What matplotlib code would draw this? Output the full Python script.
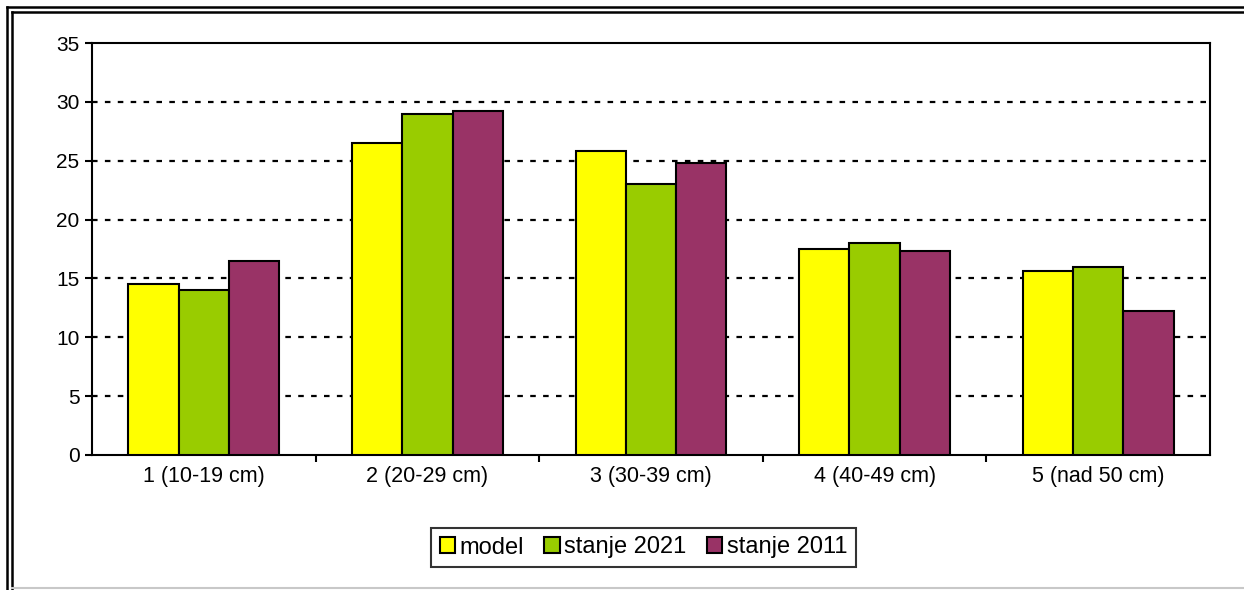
import numpy as np
import matplotlib.pyplot as plt
from matplotlib.lines import Line2D

plt.rcParams['font.family'] = ['Liberation Sans', 'DejaVu Sans']

# categories and series
categories = ["1 (10-19 cm)", "2 (20-29 cm)", "3 (30-39 cm)", "4 (40-49 cm)", "5 (nad 50 cm)"]
model = [14.5, 26.5, 25.8, 17.5, 15.6]
stanje_2021 = [14.0, 29.0, 23.0, 18.0, 16.0]
stanje_2011 = [16.5, 29.2, 24.8, 17.3, 12.2]

series = [("model", model, "#ffff00"),
          ("stanje 2021", stanje_2021, "#99cc00"),
          ("stanje 2011", stanje_2011, "#993366")]

W, H = 1244, 590
fig = plt.figure(figsize=(W / 100, H / 100), dpi=100)

def fx(px):
    return px / W

def fy(py):
    return 1 - py / H

ax = fig.add_axes([fx(92), fy(455), fx(1210) - fx(92), fy(43) - fy(455)])

x = np.arange(len(categories))
bw = 0.225
for i, (name, vals, col) in enumerate(series):
    ax.bar(x + (i - 1) * bw, vals, width=bw, color=col, edgecolor="black",
           linewidth=1.5, label=name, zorder=3)

ax.set_xlim(-0.5, len(categories) - 0.5)
ax.set_ylim(0, 35)
ax.set_yticks(range(0, 36, 5))
ax.set_xticks(x)
ax.set_xticklabels(categories, fontsize=15.5)
ax.tick_params(axis="x", length=0, pad=8)
ax.set_xticks(np.arange(0.5, len(categories) - 0.5), minor=True)
ax.tick_params(axis="x", which="minor", length=5, width=1.5, direction="out")
ax.tick_params(axis="y", length=5, width=1.5, direction="out", labelsize=15, pad=4)

for v in range(5, 35, 5):
    ax.axhline(v, color="black", linestyle=(0, (2.5, 3.3)), linewidth=1.6, zorder=1)

for s in ax.spines.values():
    s.set_linewidth(1.5)
    s.set_color("black")

handles, labels = ax.get_legend_handles_labels()
leg = fig.legend(handles, labels, loc="center", bbox_to_anchor=(fx(643.5), fy(547.5)),
                 ncol=3, fontsize=17, frameon=True, fancybox=False, edgecolor="black",
                 handlelength=0.65, handleheight=0.65, handletextpad=0.2,
                 columnspacing=0.85, borderpad=0.35)
leg.get_frame().set_linewidth(1.5)
for h in leg.legend_handles:
    h.set_linewidth(1.5)

# double outer frame
for off in (7, 12):
    fig.add_artist(Line2D([fx(off), fx(W)], [fy(off), fy(off)], color="black", linewidth=1.8))
    fig.add_artist(Line2D([fx(off), fx(off)], [fy(off), fy(H)], color="black", linewidth=1.8))
fig.add_artist(Line2D([fx(12), fx(W)], [fy(588), fy(588)], color="#c8c8c8", linewidth=1.5))

fig.savefig("out.png", dpi=100)
